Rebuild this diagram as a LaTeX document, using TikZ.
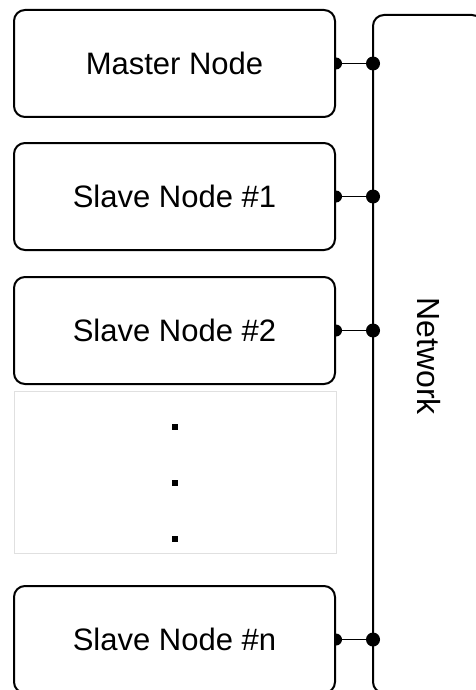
\documentclass[tikz,border=0pt]{standalone}
\usepackage{fontspec}
\setmainfont{Liberation Sans}
\begin{document}
\begin{tikzpicture}[x=1pt,y=-1pt,
  box/.style={draw=black, line width=2pt, rounded corners=11pt, fill=white, inner sep=0pt, font=\fontsize{31}{36}\selectfont},
  conn/.style={draw=black, line width=1.8pt},
  dotsq/.style={fill=black, minimum size=6pt, inner sep=0pt, draw=none}]
\useasboundingbox (0,0) rectangle (475,690);
% network bus
\draw[line width=2pt, rounded corners=11pt] (373,15) rectangle (483,693);
\coordinate (netw) at (373,15);
\node[rotate=-90, font=\fontsize{32}{36}\selectfont] (net) at (429,356) {Network};
% boxes
\node[box, minimum width=321pt, minimum height=107pt] (m) at (174.5,63.5) {Master Node};
\node[box, minimum width=321pt, minimum height=107pt] (s1) at (174.5,196.5) {Slave Node \#1};
\node[box, minimum width=321pt, minimum height=107pt] (s2) at (174.5,330.5) {Slave Node \#2};
\node[draw=black!12, line width=0.8pt, minimum width=322pt, minimum height=162pt, inner sep=0pt] (gap) at (175,472) {};
\node[box, minimum width=321pt, minimum height=107pt] (sn) at (174.5,639.5) {Slave Node \#n};
% ellipsis dots
\node[dotsq] (d1) at (175,427) {};
\node[dotsq] (d2) at (175,483) {};
\node[dotsq] (d3) at (175,539) {};
% connectors
\foreach \n in {m,s1,s2,sn}{
  \draw[conn] (\n.east) -- (\n.east -| netw);
  \fill (\n.east -| netw) circle (7pt);
  \fill (\n.east) ++(0,-6pt) arc (-90:90:6pt) -- cycle;
}
\end{tikzpicture}
\end{document}
